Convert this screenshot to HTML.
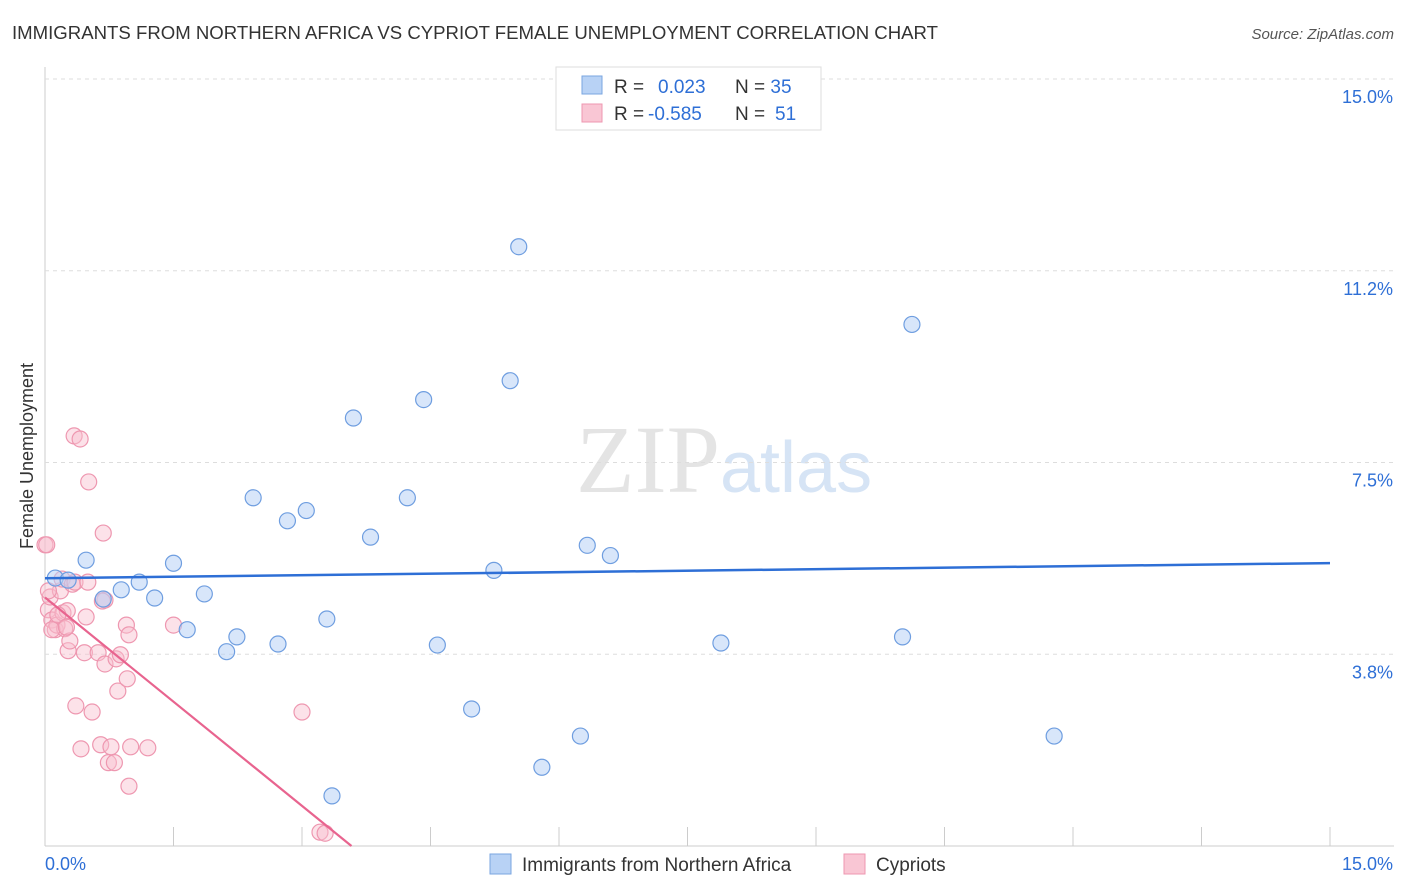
<!DOCTYPE html>
<html><head><meta charset="utf-8"><style>
body{margin:0;background:#fff;font-family:"Liberation Sans",sans-serif;}
svg{display:block}
</style></head><body>
<svg id="c" width="1406" height="892">
<text x="12" y="39" font-size="18.6" fill="#333">IMMIGRANTS FROM NORTHERN AFRICA VS CYPRIOT FEMALE UNEMPLOYMENT CORRELATION CHART</text>
<text x="1394" y="39" font-size="15" fill="#555" font-style="italic" text-anchor="end">Source: ZipAtlas.com</text>
<text x="33" y="456" font-size="18" fill="#333" transform="rotate(-90 33 456)" text-anchor="middle">Female Unemployment</text>
<text x="720" y="492" font-size="96" fill="#e4e4e4" text-anchor="end" font-family="Liberation Serif">ZIP</text>
<text x="720" y="492" font-size="72" fill="#d6e4f5">atlas</text>
<g id="grid"></g><g id="marks"></g>
<g>
<rect x="556" y="67" width="265" height="63" fill="#fff" stroke="#ddd"/>
<rect x="582" y="76" width="20" height="18" fill="#b8d2f5" stroke="#7aa6e0"/>
<rect x="582" y="104" width="20" height="18" fill="#f9c6d4" stroke="#ee97b0"/>
<text x="614" y="93" font-size="19" fill="#333">R = <tspan fill="#2e6fd6" x="658">0.023</tspan><tspan x="735" fill="#333">N = </tspan><tspan fill="#2e6fd6">35</tspan></text>
<text x="614" y="120" font-size="19" fill="#333">R = <tspan fill="#2e6fd6" x="648">-0.585</tspan><tspan x="735" fill="#333">N = </tspan><tspan fill="#2e6fd6" x="775">51</tspan></text>
</g>
<g>
<rect x="490" y="854" width="21" height="20" fill="#b8d2f5" stroke="#7aa6e0"/>
<text x="522" y="871" font-size="19" fill="#333">Immigrants from Northern Africa</text>
<rect x="844" y="854" width="21" height="20" fill="#f9c6d4" stroke="#ee97b0"/>
<text x="876" y="871" font-size="19" fill="#333">Cypriots</text>
</g>
</svg>
<script>
const blueX=[0.12,0.27,0.48,0.68,0.89,1.10,1.28,1.50,1.66,1.86,2.12,2.24,2.43,2.72,2.83,3.05,3.29,3.35,3.60,3.80,4.23,4.42,4.58,4.98,5.24,5.43,5.53,5.80,6.25,6.33,6.60,7.89,10.01,10.12,11.78];
const blueY=[5.24,5.20,5.59,4.83,5.01,5.16,4.85,5.53,4.23,4.93,3.80,4.09,6.81,3.95,6.36,6.56,4.44,0.98,8.37,6.04,6.81,8.73,3.93,2.68,5.39,9.10,11.72,1.54,2.15,5.88,5.68,3.97,4.09,10.20,2.15];
const pinkX=[0.0,0.02,0.04,0.06,0.08,0.12,0.14,0.18,0.20,0.21,0.23,0.26,0.27,0.29,0.32,0.34,0.35,0.36,0.41,0.42,0.46,0.48,0.51,0.50,0.55,0.62,0.65,0.68,0.70,0.70,0.74,0.77,0.81,0.83,0.85,0.88,0.95,0.96,0.98,0.98,1.00,1.20,1.50,3.00,3.21,3.27,0.08,0.15,0.25,0.04,0.67];
const pinkY=[5.89,5.89,4.62,4.87,4.42,4.23,4.32,4.99,5.22,4.56,4.25,4.60,3.82,4.01,5.12,8.02,5.16,2.74,7.96,1.90,3.78,4.48,7.12,5.16,2.62,3.78,1.98,6.12,4.81,3.56,1.63,1.94,1.63,3.66,3.03,3.74,4.32,3.27,4.13,1.17,1.94,1.92,4.32,2.62,0.27,0.25,4.23,4.52,4.28,4.99,4.79];
const xTicks=[0,1.5,3,4.5,6,7.5,9,10.5,12,13.5,15];
const yTicks=[3.75,7.5,11.25,15];
const yLabels=["3.8%","7.5%","11.2%","15.0%"];
const X=v=>45+v/15*1285, Y=v=>846-v/15*767;
const ns="http://www.w3.org/2000/svg";
function mk(t,a,p){const e=document.createElementNS(ns,t);for(const k in a)e.setAttribute(k,a[k]);p.appendChild(e);return e;}
const g=document.getElementById('grid'),m=document.getElementById('marks');
let ax=mk('line',{x1:45,y1:67,x2:45,y2:846,stroke:'#ccc'},g);


let bx=mk('line',{x1:45,y1:846,x2:1394,y2:846,stroke:'#ccc'},g);


yTicks.forEach((v,i)=>{
 let l=mk('line',{x1:45,x2:1394,y1:Y(v),y2:Y(v),stroke:'#ddd','stroke-dasharray':'4,4'},g);
 
 
 let t=mk('text',{x:1393,y:Y(v)+24,'font-size':18,fill:'#2e6fd6','text-anchor':'end'},g);t.textContent=yLabels[i];
 
 
});
xTicks.forEach(v=>{let l=mk('line',{x1:X(v),x2:X(v),y1:827,y2:846,stroke:'#ccc'},g);
 
 });
let t0=mk('text',{x:45,y:870,'font-size':18,fill:'#2e6fd6'},g);t0.textContent='0.0%';


let t1=mk('text',{x:1393,y:870,'font-size':18,fill:'#2e6fd6','text-anchor':'end'},g);t1.textContent='15.0%';


function fit(xs,ys){const n=xs.length,mx=xs.reduce((a,b)=>a+b)/n,my=ys.reduce((a,b)=>a+b)/n;let sxy=0,sxx=0;xs.forEach((x,i)=>{sxy+=(x-mx)*(ys[i]-my);sxx+=(x-mx)**2});const b=sxy/sxx;return [my-b*mx,b];}
function pts(xs,ys,fill,stroke,name){xs.forEach((x,i)=>{let c=mk('circle',{cx:X(x),cy:Y(ys[i]),r:8,fill:fill,stroke:stroke,'stroke-width':1.2},m);
 
 });}
pts(pinkX,pinkY,'rgba(249,190,207,0.45)','#ee97b0','cypriots-point');
pts(blueX,blueY,'rgba(184,210,245,0.55)','#6f9ee0','northern-africa-point');
let [a,b]=fit(blueX,blueY);
let bl=mk('line',{x1:X(0),y1:Y(a),x2:X(15),y2:Y(a+b*15),stroke:'#2e6fd6','stroke-width':2.5},m);


let [pa,pb]=fit(pinkX,pinkY);
let xe=pb<0?Math.min(15,-pa/pb):15;
let pl=mk('line',{x1:X(0),y1:Y(pa),x2:X(xe),y2:Y(pa+pb*xe),stroke:'#e8648f','stroke-width':2.2},m);


</script>
</body></html>
